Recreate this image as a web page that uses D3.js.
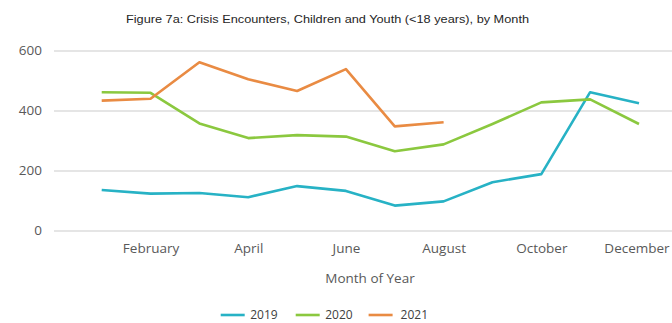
<!DOCTYPE html>
<html>
<head>
<meta charset="utf-8">
<script src="https://cdn.jsdelivr.net/npm/d3@7"></script>
<style>
  body { margin: 0; background: #fff; }
  .axis text { font-family: "Open Sans", "Noto Sans", sans-serif; fill: #595959; }
  .axis .domain { display: none; }
</style>
</head>
<body>
<div id="chart"></div>
<script>
// chart data
var months = ["January", "February", "March", "April", "May", "June",
              "July", "August", "September", "October", "November", "December"];
var monthTicks = ["February", "April", "June", "August", "October", "December"];
var yTicks = [0, 200, 400, 600];
var years = ["2019", "2020", "2021"];
var values2019 = [135, 123, 125, 111, 148, 132, 83, 97, 161, 188, 461, 424];
var values2020 = [461, 459, 357, 308, 318, 313, 264, 287, 355, 427, 437, 355];
var values2021 = [433, 439, 561, 504, 465, 538, 347, 361];
var colors = ["#27b2c5", "#8bc83f", "#e98b43"];

var width = 672, height = 323;

var svg = d3.select("#chart").append("svg")
    .attr("width", width)
    .attr("height", height);

// scales
var x = d3.scalePoint()
    .domain(months)
    .range([101.7, 639]);

var y = d3.scaleLinear()
    .domain([0, 600])
    .range([230.5, 50.5]);

var gridLeft = 54;

// y axis with gridlines
var yAxis = d3.axisLeft(y)
    .tickValues(yTicks)
    .tickSize(-(width - gridLeft))
    .tickPadding(12);

svg.append("g")
    .attr("class", "y-axis axis")
    .attr("transform", "translate(" + gridLeft + ",0)")
    .call(yAxis)
    .call(function(g) {
      g.selectAll("line").attr("stroke", "#dcdcdc").attr("stroke-width", 1.5);
      g.selectAll("text").style("font-size", "13.5px");
    });

// x axis
var xAxis = d3.axisBottom(x)
    .tickValues(monthTicks)
    .tickSize(0)
    .tickPadding(0);

svg.append("g")
    .attr("class", "x-axis axis")
    .attr("transform", "translate(0,243)")
    .call(xAxis)
    .call(function(g) {
      g.selectAll("text")
        .style("font-size", "13.5px")
        .attr("dy", "0.71em")
        .attr("x", function(d) { return d === "December" ? -2.5 : 0; });
    });

// title
svg.append("text")
    .attr("x", 327.5)
    .attr("y", 23)
    .attr("text-anchor", "middle")
    .attr("textLength", 403)
    .attr("lengthAdjust", "spacingAndGlyphs")
    .style("font-family", "Liberation Sans, Arial, sans-serif")
    .style("font-size", "11.5px")
    .style("fill", "#262626")
    .text("Figure 7a: Crisis Encounters, Children and Youth (<18 years), by Month");

// axis title
svg.append("text")
    .attr("x", 370)
    .attr("y", 283)
    .attr("text-anchor", "middle")
    .style("font-family", "Open Sans, Noto Sans, sans-serif")
    .style("font-size", "13.5px")
    .style("fill", "#595959")
    .text("Month of Year");

// lines
var series = [values2019, values2020, values2021];
var line = d3.line()
    .x(function(d, i) { return x(months[i]); })
    .y(function(d) { return y(d); });

svg.selectAll(".series")
    .data(series)
    .enter()
    .append("path")
    .attr("class", "series")
    .attr("d", line)
    .attr("fill", "none")
    .attr("stroke", function(d, i) { return colors[i]; })
    .attr("stroke-width", 2.6)
    .attr("stroke-linejoin", "round");

// legend
var legendX = [220.7, 295.7, 368.6];
var legend = svg.selectAll(".legend-item")
    .data(years)
    .enter()
    .append("g")
    .attr("class", "legend-item")
    .attr("transform", function(d, i) { return "translate(" + legendX[i] + ",315)"; });

legend.append("line")
    .attr("x1", 0)
    .attr("x2", 24)
    .attr("stroke", function(d, i) { return colors[i]; })
    .attr("stroke-width", 2.6);

legend.append("text")
    .attr("x", function(d, i) { return i === 2 ? 32 : 29.5; })
    .attr("dy", "0.35em")
    .style("font-family", "Open Sans, Noto Sans, sans-serif")
    .style("font-size", "12px")
    .style("fill", "#404040")
    .text(function(d) { return d; });
</script>
</body>
</html>
